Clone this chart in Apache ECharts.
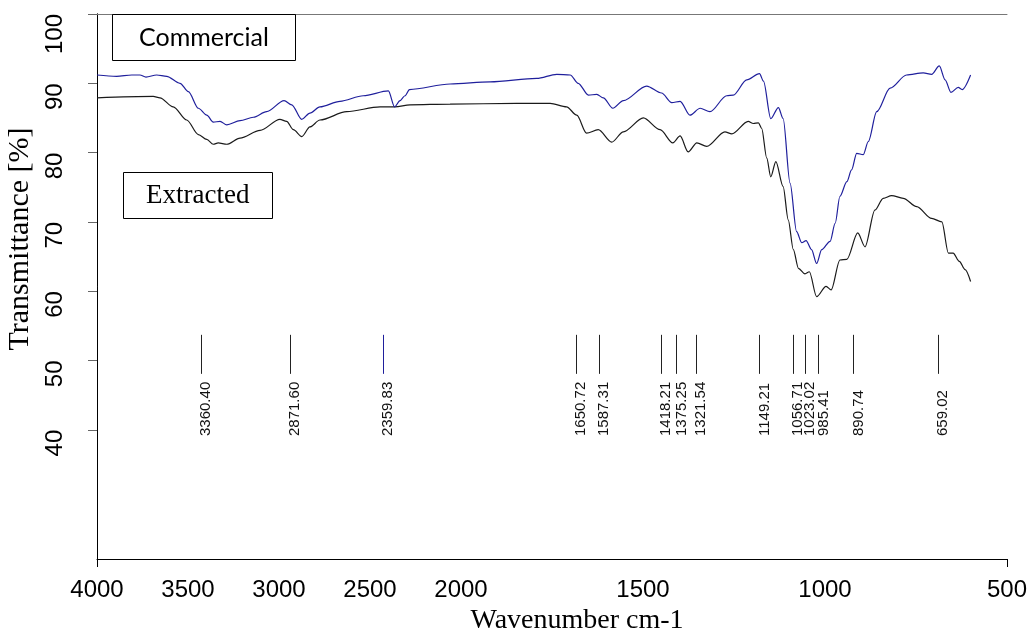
<!DOCTYPE html>
<html>
<head>
<meta charset="utf-8">
<script src="https://cdn.jsdelivr.net/npm/echarts@6/dist/echarts.min.js"></script>
<style>
html,body{margin:0;padding:0;background:#fff;}
#chart{width:1029px;height:633px;}
</style>
</head>
<body>
<div id="chart"></div>
<script>
// ---- data (wavenumber cm-1, transmittance %) ----
const commercialWn = [4000, 3892, 3809, 3764, 3731, 3672, 3617, 3544, 3498, 3443, 3397, 3361, 3324, 3287, 3214, 3141, 3068, 2972, 2930, 2875, 2830, 2775, 2665, 2537, 2399, 2365, 2335, 2308, 2283, 2060, 1920, 1792, 1737, 1700, 1678, 1650, 1627, 1609, 1583, 1554, 1490, 1449, 1421, 1398, 1371, 1343, 1316, 1270, 1252, 1215, 1180, 1169, 1149, 1128, 1115, 1096, 1078, 1064, 1052, 1037, 1023, 1009, 986, 972, 959, 940, 927, 913, 895, 881, 858, 821, 776, 730, 707, 686, 670, 654, 634, 623, 600];
const commercialT = [91.2, 91.0, 91.2, 91.2, 90.9, 91.2, 91.0, 90.0, 88.8, 86.4, 85.4, 84.4, 84.5, 84.0, 84.6, 85.1, 85.9, 87.5, 86.9, 84.8, 85.7, 86.6, 87.4, 88.2, 88.9, 86.6, 87.5, 88.2, 89.1, 89.9, 90.2, 90.7, 91.3, 91.2, 90.0, 88.3, 88.4, 87.9, 86.4, 87.5, 89.6, 88.6, 87.2, 87.4, 85.4, 86.4, 85.9, 88.2, 88.3, 90.5, 91.4, 90.3, 84.9, 86.5, 84.9, 75.6, 68.6, 67.0, 67.3, 66.0, 64.0, 66.0, 67.2, 69.8, 73.7, 75.8, 77.5, 79.9, 79.7, 81.6, 85.9, 89.3, 91.2, 91.5, 91.3, 92.5, 90.5, 88.7, 89.4, 89.1, 91.2];

const extractedWn = [4000, 3691, 3654, 3581, 3507, 3443, 3397, 3361, 3334, 3287, 3214, 3104, 2995, 2958, 2921, 2875, 2830, 2775, 2628, 2445, 2363, 2280, 2060, 1847, 1755, 1710, 1682, 1655, 1623, 1586, 1554, 1499, 1453, 1418, 1398, 1376, 1352, 1325, 1275, 1256, 1211, 1197, 1183, 1174, 1160, 1149, 1135, 1115, 1101, 1087, 1073, 1055, 1043, 1023, 997, 983, 959, 940, 910, 890, 863, 840, 817, 785, 748, 707, 679, 661, 648, 631, 615, 600];
const extractedT = [87.9, 88.1, 87.9, 86.6, 84.7, 82.6, 81.9, 81.2, 81.4, 81.2, 82.1, 83.2, 84.8, 84.5, 83.3, 82.3, 83.7, 84.7, 85.9, 86.6, 86.6, 86.9, 87.0, 87.1, 87.1, 86.6, 85.4, 82.8, 83.3, 81.5, 83.0, 85.0, 83.3, 81.4, 82.4, 80.1, 81.4, 80.9, 83.0, 82.7, 84.5, 84.2, 84.3, 83.5, 79.2, 76.5, 78.7, 75.1, 70.3, 66.0, 63.3, 62.5, 62.8, 59.2, 60.7, 60.2, 64.5, 64.6, 68.4, 66.4, 71.7, 73.4, 73.8, 73.4, 72.2, 70.5, 70.0, 65.5, 65.5, 64.3, 63.1, 61.4];

// peak marker positions as drawn in the picture, and their printed labels
const peakPos = [3429, 2940, 2429, 1685, 1620, 1451, 1408, 1355, 1180, 1087, 1054, 1018, 922, 690];
const peakLabels = ['3360.40', '2871.60', '2359.83', '1650.72', '1587.31', '1418.21', '1375.25', '1321.54', '1149.21', '1056.71', '1023.02', '985.41', '890.74', '659.02'];

const xTickLabels = [4000, 3500, 3000, 2500, 2000, 1500, 1000, 500];
const yTickLabels = [40, 50, 60, 70, 80, 90, 100];

// ---- piecewise FTIR axis: 4000-2000 compressed 2x, 2000-500 full scale ----
function toAxis(wn) { return wn >= 2000 ? (4000 - wn) / 2 : 1000 + (2000 - wn); }
function fromAxis(t) { return t <= 1000 ? 4000 - 2 * t : 2000 - (t - 1000); }

const pair = (wn, T) => wn.map((w, i) => [toAxis(w), T[i]]);

const chart = echarts.init(document.getElementById('chart'), null, {renderer: 'canvas'});

const LINE_TOP = 53.7, LINE_BOT = 48.07, LABEL_T = 39.1;

const option = {
  animation: false,
  backgroundColor: '#fff',
  title: [
    {
      text: 'Commercial', left: 112, top: 14,
      padding: [10, 27, 9, 27], borderWidth: 1, borderColor: '#000',
      textStyle: {fontFamily: 'Lato', fontSize: 25, fontWeight: 'normal', color: '#000', lineHeight: 28}
    },
    {
      text: 'Extracted', left: 123, top: 172,
      padding: [9, 23, 8, 23], borderWidth: 1, borderColor: '#000',
      textStyle: {fontFamily: 'Liberation Serif', fontSize: 27, fontWeight: 'normal', color: '#000', lineHeight: 30}
    }
  ],
  grid: {left: 97, right: 22, top: 14, bottom: 74, containLabel: false, outerBoundsMode: 'none'},
  xAxis: [
    {
      type: 'value', min: 0, max: 2500, position: 'bottom',
      name: 'Wavenumber cm-1', nameLocation: 'middle', nameGap: 25,
      nameTextStyle: {fontFamily: 'Liberation Serif', fontSize: 28, color: '#000', padding: [0, 0, 0, 50], lineHeight: 28},
      axisLine: {show: true, lineStyle: {color: '#000', width: 1}},
      axisTick: {show: true, length: 8, lineStyle: {color: '#000'}, customValues: [toAxis(4000), toAxis(500)]},
      axisLabel: {
        show: true, margin: 19, customValues: xTickLabels.map(toAxis),
        formatter: v => String(Math.round(fromAxis(v))),
        fontFamily: 'Liberation Sans', fontSize: 24, color: '#000'
      },
      splitLine: {show: false}
    },
    {
      type: 'value', min: 0, max: 2500, position: 'top',
      axisLine: {show: true, lineStyle: {color: '#777', width: 1}},
      axisTick: {show: false}, axisLabel: {show: false}, splitLine: {show: false}
    }
  ],
  yAxis: [
    {
      type: 'value', min: 21.35, max: 100, position: 'left',
      name: 'Transmittance [%]', nameLocation: 'middle', nameGap: 60, nameRotate: 90,
      nameTextStyle: {fontFamily: 'Liberation Serif', fontSize: 30, color: '#000', padding: [0, 0, 0, 95]},
      axisLine: {show: true, lineStyle: {color: '#000', width: 1}},
      axisTick: {show: true, length: 9, lineStyle: {color: '#666'}, customValues: yTickLabels},
      axisLabel: {
        show: true, customValues: yTickLabels, rotate: 90, align: 'right', verticalAlign: 'middle', margin: 42,
        fontFamily: 'Liberation Sans', fontSize: 24, color: '#000'
      },
      splitLine: {show: false}
    },
    {
      type: 'value', min: 21.35, max: 100, position: 'right',
      axisLine: {show: true, lineStyle: {color: '#000', width: 1}},
      axisTick: {show: false}, axisLabel: {show: false}, splitLine: {show: false}
    }
  ],
  series: [
    {
      name: 'Commercial', type: 'line', data: pair(commercialWn, commercialT),
      showSymbol: false, smooth: 0.3, smoothMonotone: 'x',
      lineStyle: {color: '#1f1f9c', width: 1.2}, z: 3
    },
    {
      name: 'Extracted', type: 'line', data: pair(extractedWn, extractedT),
      showSymbol: false, smooth: 0.3, smoothMonotone: 'x',
      lineStyle: {color: '#1a1a1a', width: 1.2}, z: 2
    },
    {
      name: 'Peaks', type: 'custom',
      data: peakPos.map((p, i) => [toAxis(p), i]),
      renderItem: function (params, api) {
        const x = api.value(0);
        const i = api.value(1);
        const top = api.coord([x, LINE_TOP]);
        const bot = api.coord([x, LINE_BOT]);
        const lab = api.coord([x, LABEL_T]);
        const color = peakLabels[i] === '2359.83' ? '#1f1f9c' : '#222';
        return {
          type: 'group',
          children: [
            {type: 'line', shape: {x1: Math.round(top[0]) + 0.5, y1: top[1], x2: Math.round(bot[0]) + 0.5, y2: bot[1]},
             style: {stroke: color, lineWidth: 1}},
            {type: 'text', x: lab[0] + 5, y: lab[1], rotation: Math.PI / 2,
             style: {text: peakLabels[i], font: '15px "Liberation Sans"', fill: '#111', align: 'left', verticalAlign: 'middle'}}
          ]
        };
      },
      z: 4
    }
  ]
};
chart.setOption(option);
</script>
</body>
</html>
